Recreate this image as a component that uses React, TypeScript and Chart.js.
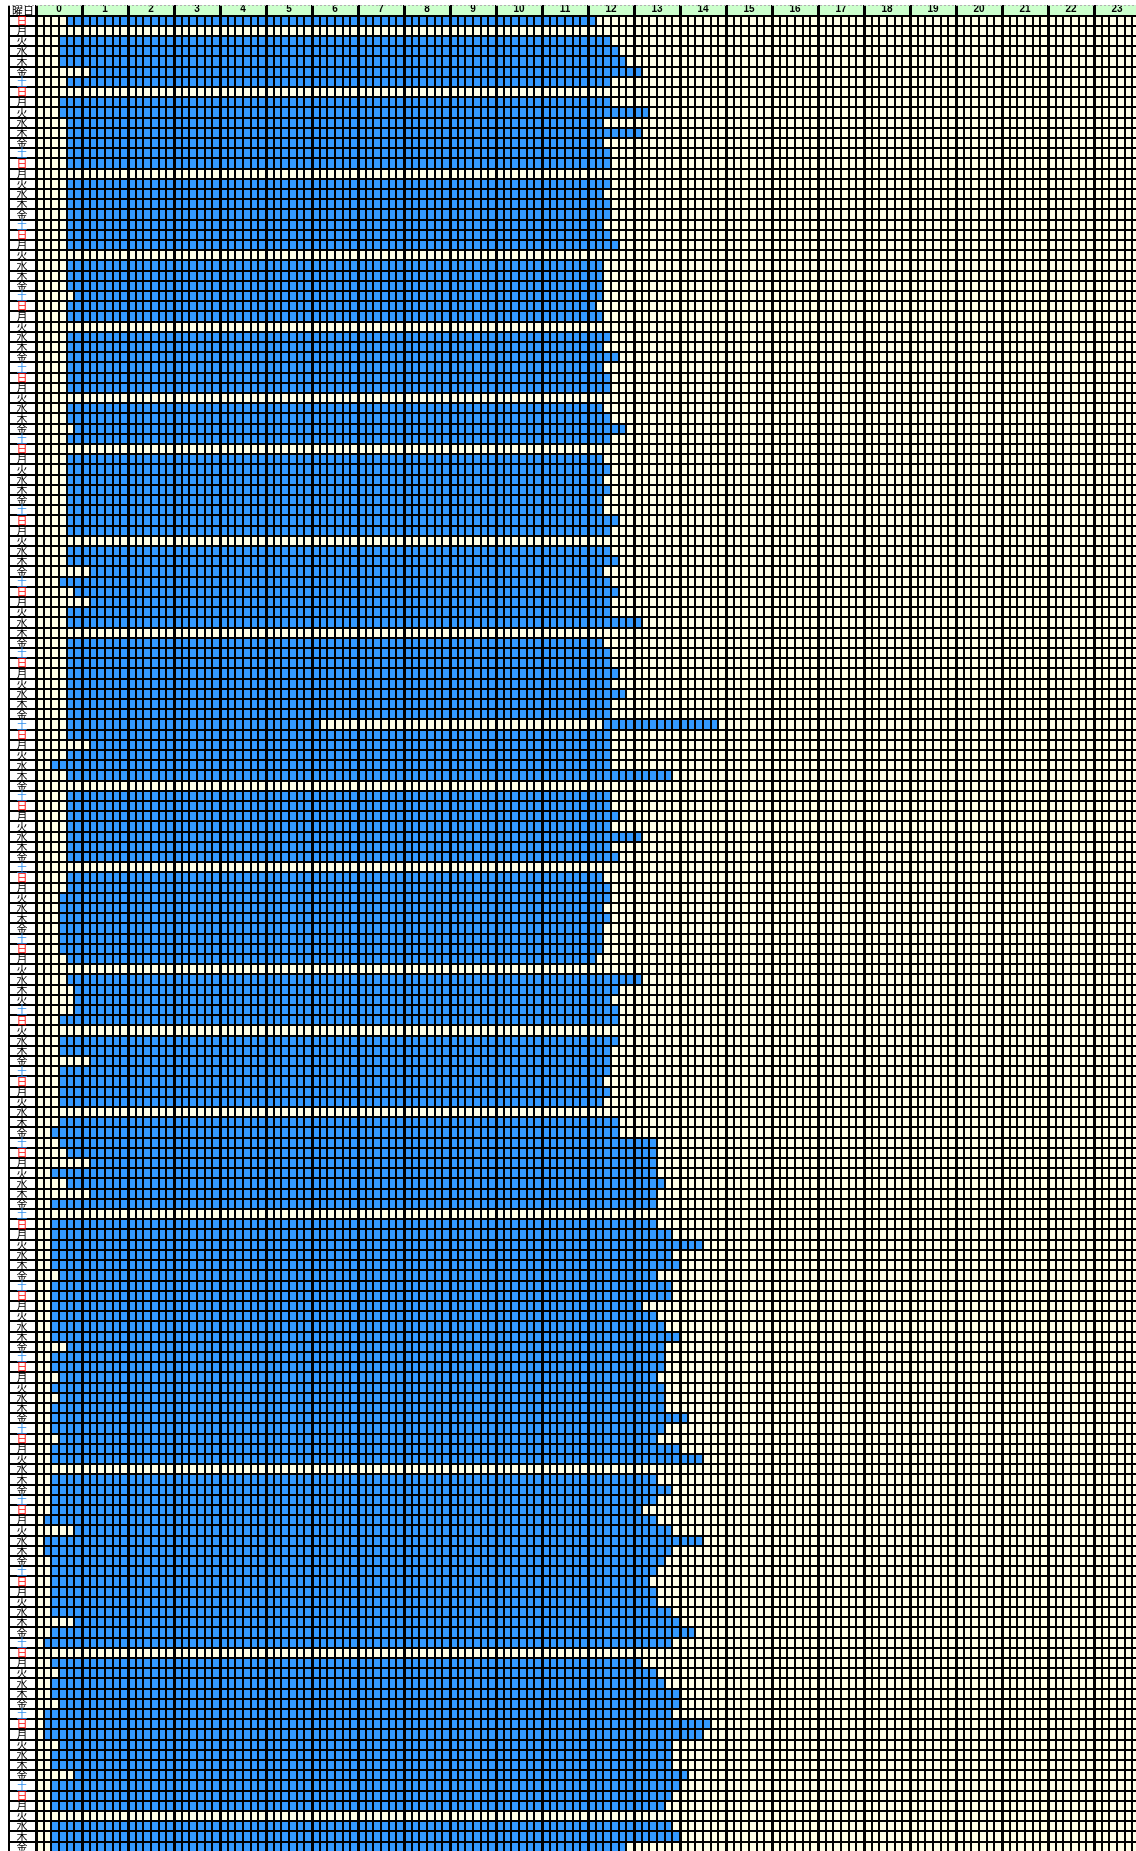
import React, { useEffect, useRef } from 'react';
import { Chart, registerables } from 'chart.js';

Chart.register(...registerables);

// Row labels (weekday of each row, top to bottom)
const dayLabels: string[] = (
  '日月火水木金土' + '日月火水木金土' + '日月火水木金土' + '日月火水木金土' +
  '日月火水木金土' + '日月火水木金土' + '日月火水木金土' + '日月火水木金土' +
  '日月火水木金土' + '日月火水木金土' + '日月火水木金土' + '日月火水木金土' +
  '日月火水木金土' + '日月火水木' + '火土日火' +
  '水木金土日月火' + '水木金土日月火' + '水木金土日月火' + '水木金土日月火' +
  '水木金土日月火' + '水木金土日月火' + '水木金土日月火' + '水木金土日月火' +
  '水木金土日月火' + '水木金土日月火' + '水木金土日月火' + '水木金土'
).split('');

// Start time of each row ('' = no record)
const startTimes: string[] = [
  '0:40', '', '0:30', '0:30', '0:30', '1:10', '0:40',
  '', '0:30', '0:30', '0:40', '0:40', '0:40', '0:40',
  '0:40', '', '0:40', '0:40', '0:40', '0:40', '0:40',
  '0:40', '0:40', '', '0:40', '0:40', '0:40', '0:50',
  '0:40', '0:40', '', '0:40', '0:40', '0:40', '0:40',
  '0:40', '0:40', '', '0:40', '0:40', '0:50', '0:40',
  '', '0:40', '0:40', '0:40', '0:40', '0:40', '0:40',
  '0:40', '0:40', '', '0:40', '0:40', '1:10', '0:30',
  '0:50', '1:10', '0:40', '0:40', '', '0:40', '0:40',
  '0:40', '0:40', '0:40', '0:40', '0:40', '0:40', '0:40',
  '0:40', '1:10', '0:40', '0:20', '0:40', '', '0:40',
  '0:40', '0:40', '0:40', '0:40', '0:40', '0:40', '',
  '0:40', '0:40', '0:30', '0:30', '0:30', '0:30', '0:30',
  '0:30', '0:40', '', '0:40', '0:50', '0:50', '0:50',
  '0:30', '', '0:30', '0:30', '1:10', '0:30', '0:30',
  '0:30', '0:30', '', '0:30', '0:20', '0:30', '0:40',
  '1:10', '0:20', '0:40', '1:10', '0:20', '', '0:20',
  '0:20', '0:20', '0:20', '0:20', '0:30', '0:20', '0:20',
  '0:20', '0:20', '0:20', '0:20', '0:40', '0:20', '0:20',
  '0:30', '0:20', '0:30', '0:20', '0:20', '0:20', '0:30',
  '0:20', '0:20', '', '0:20', '0:20', '0:20', '0:20',
  '0:10', '0:50', '0:10', '0:10', '0:20', '0:20', '0:20',
  '0:20', '0:20', '0:20', '0:50', '0:20', '0:10', '',
  '0:20', '0:30', '0:20', '0:20', '0:30', '0:10', '0:10',
  '0:10', '0:30', '0:20', '0:20', '0:50', '0:20', '0:20',
  '0:20', '', '0:20', '0:20', '0:20', '',
];

// End time of each row ('' = no record)
const endTimes: string[] = [
  '12:10', '', '12:30', '12:40', '12:50', '13:10', '12:30',
  '', '12:30', '13:20', '12:20', '13:10', '12:20', '12:30',
  '12:30', '', '12:30', '12:20', '12:30', '12:30', '12:20',
  '12:30', '12:40', '', '12:20', '12:20', '12:20', '12:20',
  '12:10', '12:20', '', '12:30', '12:20', '12:40', '12:20',
  '12:30', '12:30', '', '12:20', '12:30', '12:50', '12:30',
  '', '12:20', '12:30', '12:20', '12:30', '12:20', '12:20',
  '12:40', '12:30', '', '12:30', '12:40', '12:20', '12:30',
  '12:40', '12:30', '12:30', '13:10', '', '12:20', '12:30',
  '12:30', '12:40', '12:30', '12:50', '12:30', '12:30', '6:10',
  '12:30', '12:30', '12:30', '12:30', '13:50', '', '12:30',
  '12:30', '12:40', '12:30', '13:10', '12:30', '12:40', '',
  '12:20', '12:30', '12:30', '12:20', '12:30', '12:20', '12:20',
  '12:20', '12:10', '', '13:10', '12:40', '12:30', '12:40',
  '12:40', '', '12:40', '12:30', '12:30', '12:30', '12:20',
  '12:30', '12:20', '', '12:40', '12:40', '13:30', '13:30',
  '13:30', '13:30', '13:40', '13:30', '13:30', '', '13:30',
  '13:50', '14:30', '13:50', '14:00', '13:30', '13:50', '13:50',
  '13:10', '13:30', '13:40', '14:00', '13:40', '13:40', '13:40',
  '13:30', '13:40', '13:40', '13:40', '14:10', '13:40', '13:30',
  '14:00', '14:30', '', '13:30', '13:50', '13:30', '13:10',
  '13:30', '13:50', '14:30', '13:50', '13:40', '13:30', '13:20',
  '13:30', '13:30', '13:50', '14:00', '14:20', '13:50', '',
  '13:10', '13:30', '13:40', '14:00', '14:00', '13:50', '14:40',
  '14:30', '13:50', '13:50', '13:50', '14:10', '14:00', '13:50',
  '13:40', '', '13:50', '14:00', '12:50', '',
];

// Second span recorded on the same row (row number, start, end)
const extraRows: number[] = [70];
const extraStarts: string[] = ['12:20'];
const extraEnds: string[] = ['14:50'];

const hourLabels: string[] = [
  '0', '1', '2', '3', '4', '5', '6', '7', '8', '9', '10', '11',
  '12', '13', '14', '15', '16', '17', '18', '19', '20', '21', '22', '23',
];

const BLUE = '#3399ff';
const CREAM = '#ffffe6';
const GREEN = '#ccffcc';
const FONT = '"Noto Sans CJK JP", "Noto Sans", sans-serif';

const toHours = (s: string): number | null => {
  if (!s) return null;
  const [h, m] = s.split(':').map(Number);
  return h + m / 60;
};

const isHour = (v: number) => Math.abs(v - Math.round(v)) < 1e-6;

const sheetPlugin = {
  id: 'sheet',
  beforeDraw(chart: any) {
    const { ctx, chartArea, width, height } = chart;
    ctx.save();
    ctx.fillStyle = '#ffffff';
    ctx.fillRect(0, 0, width, height);
    ctx.fillStyle = GREEN;
    ctx.fillRect(chartArea.left, 0, chartArea.right - chartArea.left, chartArea.top);
    ctx.fillStyle = CREAM;
    ctx.fillRect(chartArea.left, chartArea.top, chartArea.right - chartArea.left, chartArea.bottom - chartArea.top);
    ctx.restore();
  },
  afterDraw(chart: any) {
    const { ctx, chartArea, height } = chart;
    ctx.save();
    ctx.strokeStyle = '#000';
    ctx.lineWidth = 2;
    ctx.beginPath();
    ctx.moveTo(1, 0);
    ctx.lineTo(1, height);
    ctx.stroke();
    ctx.strokeStyle = '#b0b0b0';
    ctx.lineWidth = 1;
    ctx.setLineDash([2, 2]);
    ctx.beginPath();
    ctx.moveTo(0, 0.5);
    ctx.lineTo(chart.width, 0.5);
    ctx.stroke();
    ctx.setLineDash([]);
    ctx.fillStyle = '#000';
    ctx.font = `11px ${FONT}`;
    ctx.textAlign = 'center';
    ctx.textBaseline = 'middle';
    ctx.fillText('曜日', chartArea.left / 2 + 1, chartArea.top / 2 + 0.5);
    ctx.restore();
  },
};

export default function App() {
  const canvasRef = useRef<HTMLCanvasElement | null>(null);

  useEffect(() => {
    const canvas = canvasRef.current;
    if (!canvas) return;
    const bars = dayLabels.map((_, i) => {
      const s = toHours(startTimes[i] || '');
      const e = toHours(endTimes[i] || '');
      return s === null || e === null ? null : [s, e];
    });
    const extra = dayLabels.map((_, i) => {
      const k = extraRows.indexOf(i + 1);
      if (k < 0) return null;
      return [toHours(extraStarts[k]), toHours(extraEnds[k])];
    });

    const common = {
      backgroundColor: BLUE,
      borderWidth: 0,
      borderSkipped: false,
      barPercentage: 1,
      categoryPercentage: 1,
      grouped: false,
      xAxisID: 'x',
      yAxisID: 'y',
    };

    const chart = new Chart(canvas, {
      type: 'bar',
      data: {
        labels: dayLabels,
        datasets: [
          { label: '記録', data: bars as any, ...common },
          { label: '記録2', data: extra as any, ...common },
        ],
      },
      options: {
        indexAxis: 'y',
        animation: false,
        responsive: false,
        devicePixelRatio: 1,
        layout: { padding: { left: 0, right: 4, top: 0, bottom: 0 } },
        plugins: {
          legend: { display: false },
          tooltip: { enabled: false },
          title: { display: false },
        },
        scales: {
          x: {
            type: 'linear',
            position: 'top',
            min: 0,
            max: 24,
            weight: 0,
            ticks: { stepSize: 1 / 6, display: false, autoSkip: false },
            grid: {
              z: 1,
              color: '#000',
              lineWidth: (c: any) => (isHour(c.tick.value) ? 3 : 2),
              drawTicks: true,
              tickLength: 10.5,
              tickWidth: 3,
              tickColor: (c: any) => (isHour(c.tick.value) ? '#000' : 'rgba(0,0,0,0)'),
            },
            border: { display: true, color: '#000', width: 2, z: 1 },
            afterFit: (s: any) => {
              s.height = 0;
            },
          },
          x2: {
            type: 'category',
            position: 'top',
            labels: hourLabels,
            offset: true,
            weight: 1,
            grid: { display: false, drawTicks: false },
            border: { display: false },
            ticks: {
              color: '#000',
              font: { size: 10, weight: 'bold', family: '"Liberation Sans", Arial, sans-serif' },
              padding: 0,
              autoSkip: false,
              maxRotation: 0,
              z: 2,
            },
            afterFit: (s: any) => {
              s.height = 10.5;
            },
          },
          y: {
            type: 'category',
            offset: true,
            grid: {
              z: 1,
              color: '#000',
              lineWidth: 2,
              offset: true,
              drawTicks: true,
              tickLength: 28,
            },
            border: { display: true, color: '#000', width: 2, z: 1 },
            ticks: {
              z: 2,
              autoSkip: false,
              padding: -19.5,
              crossAlign: 'near',
              font: { size: 11, family: FONT },
              color: (c: any) => {
                const l = dayLabels[c.index];
                return l === '日' ? '#ff0000' : l === '土' ? '#2e8ff0' : '#000000';
              },
            },
            afterFit: (s: any) => {
              s.width = 28;
            },
          },
        },
      },
      plugins: [sheetPlugin],
    } as any);

    return () => chart.destroy();
  }, []);

  return (
    <div
      style={{
        position: 'absolute',
        left: 0,
        top: 0,
        width: 1136,
        height: 1851,
        overflow: 'hidden',
        background: '#fff',
      }}
    >
      <canvas
        ref={canvasRef}
        width={1136}
        height={1857}
        style={{ position: 'absolute', left: 8, top: 5, width: 1136, height: 1857 }}
      />
    </div>
  );
}
